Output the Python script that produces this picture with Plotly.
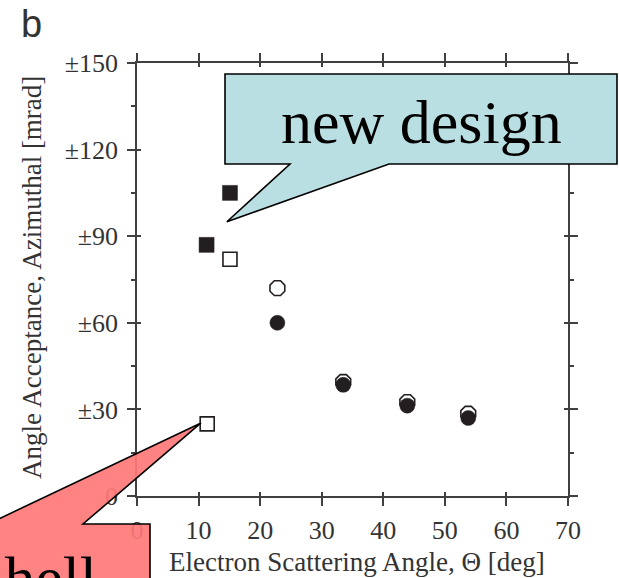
import plotly.graph_objects as go

# Electron scattering angle [deg] vs. azimuthal angle acceptance [mrad]
new_sq_x = [11.3, 15.1]
new_sq_y = [87, 105]
open_sq_x = [11.4, 15.1]
open_sq_y = [25, 82]
open_circ_x = [22.8, 33.5, 43.9, 53.8]
open_circ_y = [72, 39.5, 32.5, 28.5]
fill_circ_x = [22.8, 33.5, 43.9, 53.8]
fill_circ_y = [60, 38.5, 31.3, 27]

y_tickvals = [0, 30, 60, 90, 120, 150]
y_ticktext = ["0", "±30", "±60", "±90", "±120", "±150"]
x_tickvals = [0, 10, 20, 30, 40, 50, 60, 70]

W, H = 619, 578
ML, MR, MT, MB = 137, 51, 63, 82
XR = (0, 70)
YR = (0, 150)
PW = W - ML - MR
PH = H - MT - MB

SERIF = "Liberation Serif, Times New Roman, serif"
INK = "#231f20"
AX = "#404040"
TXT = "#333333"


def px_to_paper(px, py):
    return (px - ML) / PW, (H - MB - py) / PH


def data_to_paper(x, y):
    return (x - XR[0]) / (XR[1] - XR[0]), (y - YR[0]) / (YR[1] - YR[0])


def path_from(points):
    return "M " + " L ".join(f"{x:.5f},{y:.5f}" for x, y in points) + " Z"


fig = go.Figure()

fig.add_trace(go.Scatter(
    x=open_circ_x, y=open_circ_y, mode="markers",
    marker=dict(symbol="octagon", size=16, color="white",
                line=dict(color=INK, width=1.6)),
    showlegend=False, cliponaxis=False))
fig.add_trace(go.Scatter(
    x=fill_circ_x, y=fill_circ_y, mode="markers",
    marker=dict(symbol="circle", size=15, color=INK,
                line=dict(color=INK, width=0.5)),
    showlegend=False, cliponaxis=False))
fig.add_trace(go.Scatter(
    x=open_sq_x, y=open_sq_y, mode="markers",
    marker=dict(symbol="square", size=14, color="white",
                line=dict(color=INK, width=1.6)),
    showlegend=False, cliponaxis=False))
fig.add_trace(go.Scatter(
    x=new_sq_x, y=new_sq_y, mode="markers",
    marker=dict(symbol="square", size=15, color=INK,
                line=dict(color=INK, width=0.5)),
    showlegend=False, cliponaxis=False))

# empty trace that carries the inward-tick overlay axes
fig.add_trace(go.Scatter(x=[None], y=[None], xaxis="x2", yaxis="y2",
                         mode="markers", showlegend=False, hoverinfo="skip"))

# callout "new design": box in pixels, tip in data units
tip_new = data_to_paper(14.6, 95)
blue_pts = [px_to_paper(225, 74), px_to_paper(617, 74), px_to_paper(617, 164),
            px_to_paper(389, 164), tip_new, px_to_paper(290, 164),
            px_to_paper(225, 164)]
fig.add_shape(type="path", xref="paper", yref="paper", path=path_from(blue_pts),
              fillcolor="#badfe2", line=dict(color="black", width=1.6), layer="above")

# callout "shell"
tip_old = data_to_paper(10.4, 25.3)
red_pts = [px_to_paper(-40, 524), px_to_paper(-12, 524), tip_old,
           px_to_paper(83, 524), px_to_paper(150, 524), px_to_paper(150, 640),
           px_to_paper(-40, 640)]
fig.add_shape(type="path", xref="paper", yref="paper", path=path_from(red_pts),
              fillcolor="rgba(255,120,120,0.92)", line=dict(color="black", width=1.6),
              layer="above")

ax_new = px_to_paper(421, 122)
fig.add_annotation(x=ax_new[0], y=ax_new[1], xref="paper", yref="paper",
                   text="new design", showarrow=False, xanchor="center", yanchor="middle",
                   font=dict(family=SERIF, size=62, color="black"))
ax_old = px_to_paper(-22, 578)
fig.add_annotation(x=ax_old[0], y=ax_old[1], xref="paper", yref="paper",
                   text="shell", showarrow=False, xanchor="left", yanchor="middle",
                   font=dict(family=SERIF, size=62, color="black"))

# axis titles and panel letter
xt = px_to_paper(357, 562)
fig.add_annotation(x=xt[0], y=xt[1], xref="paper", yref="paper",
                   text="Electron Scattering Angle, Θ [deg]", showarrow=False,
                   xanchor="center", yanchor="middle",
                   font=dict(family=SERIF, size=27, color=TXT))
yt = px_to_paper(32, 278)
fig.add_annotation(x=yt[0], y=yt[1], xref="paper", yref="paper",
                   text="Angle Acceptance, Azimuthal [mrad]", showarrow=False,
                   textangle=-90, xanchor="center", yanchor="middle",
                   font=dict(family=SERIF, size=27, color=TXT))
bt = px_to_paper(31, 24)
fig.add_annotation(x=bt[0], y=bt[1], xref="paper", yref="paper",
                   text="b", showarrow=False, xanchor="center", yanchor="middle",
                   font=dict(family="Liberation Sans, Arial, sans-serif", size=38,
                             color=TXT))

fig.update_layout(
    width=W, height=H, margin=dict(l=ML, r=MR, t=MT, b=MB),
    plot_bgcolor="white", paper_bgcolor="white", showlegend=False,
    xaxis=dict(range=list(XR), tickvals=x_tickvals, ticks="outside", ticklen=8,
               tickwidth=1.5, tickcolor=AX, showline=True, linecolor=AX, linewidth=1.5,
               mirror="ticks", showgrid=False, zeroline=False, ticklabelstandoff=2,
               tickfont=dict(family=SERIF, size=26, color=TXT)),
    yaxis=dict(range=list(YR), tickvals=y_tickvals, ticktext=y_ticktext,
               ticks="outside", ticklen=8, tickwidth=1.5, tickcolor=AX,
               minor=dict(dtick=15, ticks="outside", ticklen=4, tickcolor=AX,
                          tickwidth=1.5),
               showline=True, linecolor=AX, linewidth=1.5, mirror="ticks",
               showgrid=False, zeroline=False, ticklabelstandoff=4,
               tickfont=dict(family=SERIF, size=26, color=TXT)),
    xaxis2=dict(range=list(XR), overlaying="x", anchor="y2", tickvals=x_tickvals,
                ticks="inside", ticklen=4, tickwidth=1.5, tickcolor=AX,
                mirror="ticks", showticklabels=False, showgrid=False, zeroline=False,
                showline=False),
    yaxis2=dict(range=list(YR), overlaying="y", anchor="x2", tickvals=y_tickvals,
                ticks="inside", ticklen=4, tickwidth=1.5, tickcolor=AX,
                mirror="ticks", showticklabels=False, showgrid=False, zeroline=False,
                showline=False),
)

fig.write_html("out.html")
